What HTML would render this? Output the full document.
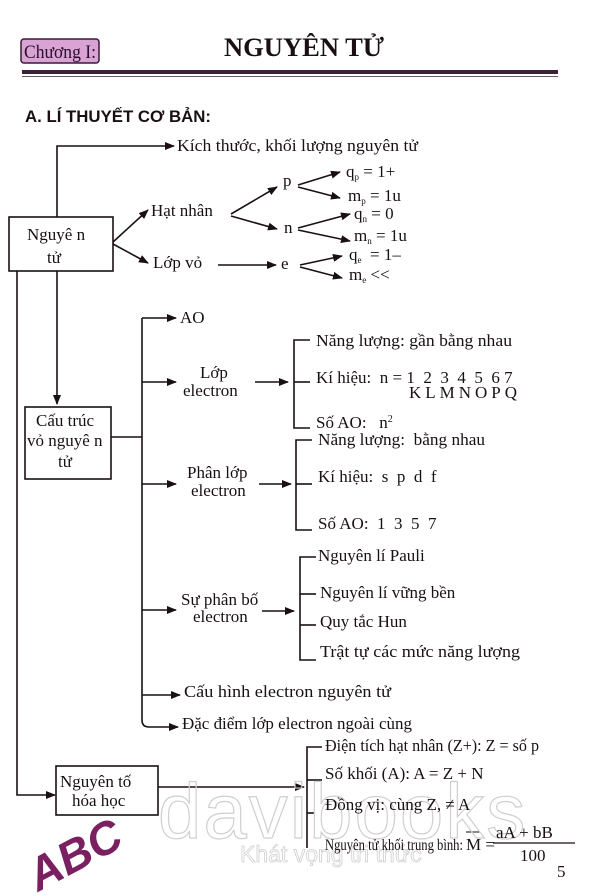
<!DOCTYPE html>
<html><head><meta charset="utf-8"><style>
html,body{margin:0;padding:0;background:#fff;}
svg{display:block;}
text{font-family:"Liberation Serif",serif;font-size:17px;fill:#1a0f14;white-space:pre;}
</style></head><body>
<svg width="600" height="896" viewBox="0 0 600 896" xmlns="http://www.w3.org/2000/svg" xml:space="preserve">
<defs>
<marker id="a" markerWidth="10" markerHeight="8" refX="9" refY="4" orient="auto" markerUnits="userSpaceOnUse">
<path d="M0,0 L10,4 L0,8 Z" fill="#1a0f14"/></marker>
</defs>
<g stroke="#1a0f14" stroke-width="1.6" fill="none">
<rect x="21" y="39" width="78" height="24" rx="3" fill="#d9a3d6" stroke="#3a1a36" stroke-width="1.5"/>
<line x1="22" y1="72" x2="558" y2="72" stroke="#3b2236" stroke-width="4"/>
<line x1="22" y1="76.5" x2="558" y2="76.5" stroke="#6a5a66" stroke-width="1"/>

<rect x="9" y="217" width="104" height="54"/>
<polyline points="57,217 57,146 174,146" marker-end="url(#a)"/>
<line x1="113" y1="242" x2="148" y2="210" marker-end="url(#a)"/>
<line x1="113" y1="244" x2="148" y2="263" marker-end="url(#a)"/>
<line x1="231" y1="214" x2="277" y2="187" marker-end="url(#a)"/>
<line x1="231" y1="216" x2="277" y2="229" marker-end="url(#a)"/>
<line x1="298" y1="185" x2="340" y2="172" marker-end="url(#a)"/>
<line x1="298" y1="187" x2="340" y2="198" marker-end="url(#a)"/>
<line x1="298" y1="228" x2="350" y2="214" marker-end="url(#a)"/>
<line x1="298" y1="230" x2="350" y2="241" marker-end="url(#a)"/>
<line x1="218" y1="265" x2="276" y2="265" marker-end="url(#a)"/>
<line x1="300" y1="265" x2="342" y2="256" marker-end="url(#a)"/>
<line x1="300" y1="267" x2="342" y2="278" marker-end="url(#a)"/>

<line x1="57" y1="271" x2="57" y2="404" marker-end="url(#a)"/>
<polyline points="17,271 17,795 55,795" marker-end="url(#a)"/>

<rect x="25" y="407" width="86" height="72"/>
<line x1="111" y1="437" x2="142" y2="437"/>
<path d="M142,318 L142,720 Q142,727 149,727 L178,727" marker-end="url(#a)"/>
<line x1="142" y1="318" x2="176" y2="318" marker-end="url(#a)"/>
<line x1="142" y1="382" x2="176" y2="382" marker-end="url(#a)"/>
<line x1="142" y1="484" x2="176" y2="484" marker-end="url(#a)"/>
<line x1="142" y1="610" x2="176" y2="610" marker-end="url(#a)"/>
<line x1="142" y1="695" x2="180" y2="695" marker-end="url(#a)"/>

<line x1="255" y1="382" x2="288" y2="382" marker-end="url(#a)"/>
<polyline points="310,340 294,340 294,428 310,428"/>
<line x1="294" y1="382" x2="310" y2="382"/>

<line x1="259" y1="484" x2="291" y2="484" marker-end="url(#a)"/>
<polyline points="312,440 296,440 296,530 312,530"/>
<line x1="296" y1="484" x2="312" y2="484"/>

<line x1="262" y1="611" x2="294" y2="611" marker-end="url(#a)"/>
<polyline points="316,557 300,557 300,660 316,660"/>
<line x1="300" y1="594" x2="316" y2="594"/>
<line x1="300" y1="625" x2="316" y2="625"/>

<rect x="56" y="766" width="102" height="49"/>
<line x1="158" y1="787" x2="304" y2="787" marker-end="url(#a)"/>
<polyline points="322,747 307,747 307,848"/>
<line x1="307" y1="780" x2="322" y2="780"/>
<line x1="307" y1="813" x2="314" y2="813"/>
<line x1="493" y1="843" x2="575" y2="843" stroke-width="1.2"/>
<line x1="466" y1="832" x2="480" y2="832" stroke-width="1"/>
</g>

<text x="158" y="838" style="font-family:'Liberation Sans',sans-serif;font-size:78px;fill:none;stroke:#cfcfcf;stroke-width:1.2;letter-spacing:2px">davibooks</text>
<text x="240" y="862" style="font-family:'Liberation Sans',sans-serif;font-size:23px;fill:#fff;stroke:#cfcfcf;stroke-width:0.8">Khát vọng tri thức</text>

<text x="24" y="58" textLength="72" lengthAdjust="spacingAndGlyphs" style="font-size:19px;fill:#2a0f28">Chương I:</text>
<text x="224" y="56" textLength="160" lengthAdjust="spacingAndGlyphs" style="font-size:26px;font-weight:bold">NGUYÊN TỬ</text>
<text x="25" y="122" textLength="186" lengthAdjust="spacingAndGlyphs" style="font-family:'Liberation Sans',sans-serif;font-size:17px;font-weight:bold">A. LÍ THUYẾT CƠ BẢN:</text>

<text x="177" y="151" textLength="241" lengthAdjust="spacingAndGlyphs">Kích thước, khối lượng nguyên tử</text>
<text x="27" y="240">Nguyê n</text>
<text x="47" y="263">tử</text>
<text x="151" y="216">Hạt nhân</text>
<text x="153" y="268">Lớp vỏ</text>
<text x="283" y="186">p</text>
<text x="284" y="233">n</text>
<text x="281" y="269">e</text>
<text x="346" y="177">q<tspan font-size="9" dy="3">p</tspan><tspan dy="-3"> = 1+</tspan></text>
<text x="348" y="201">m<tspan font-size="9" dy="3">p</tspan><tspan dy="-3"> = 1u</tspan></text>
<text x="354" y="219">q<tspan font-size="9" dy="3">n</tspan><tspan dy="-3"> = 0</tspan></text>
<text x="354" y="241">m<tspan font-size="9" dy="3">n</tspan><tspan dy="-3"> = 1u</tspan></text>
<text x="349" y="260">q<tspan font-size="9" dy="3">e</tspan><tspan dy="-3">  = 1–</tspan></text>
<text x="349" y="280">m<tspan font-size="9" dy="3">e</tspan><tspan dy="-3"> &lt;&lt;</tspan></text>

<text x="36" y="426">Cấu trúc</text>
<text x="27" y="446">vỏ nguyê n</text>
<text x="58" y="467">tử</text>

<text x="180" y="323">AO</text>
<text x="200" y="378">Lớp</text>
<text x="183" y="396">electron</text>
<text x="316" y="346" textLength="196" lengthAdjust="spacingAndGlyphs">Năng lượng: gần bằng nhau</text>
<text x="316" y="383">Kí hiệu:  n = 1  2  3  4  5  6 7</text>
<text x="409" y="398" textLength="108" lengthAdjust="spacing">KLMNOPQ</text>
<text x="316" y="428">Số AO:   n<tspan font-size="10" dy="-6">2</tspan></text>

<text x="187" y="478">Phân lớp</text>
<text x="191" y="496">electron</text>
<text x="318" y="445" textLength="167" lengthAdjust="spacingAndGlyphs">Năng lượng:  bằng nhau</text>
<text x="318" y="482">Kí hiệu:  s  p  d  f</text>
<text x="318" y="529">Số AO:  1  3  5  7</text>

<text x="181" y="605">Sự phân bố</text>
<text x="193" y="622">electron</text>
<text x="318" y="561">Nguyên lí Pauli</text>
<text x="320" y="598">Nguyên lí vững bền</text>
<text x="320" y="627">Quy tắc Hun</text>
<text x="320" y="657" textLength="200" lengthAdjust="spacingAndGlyphs">Trật tự các mức năng lượng</text>

<text x="184" y="697" textLength="207" lengthAdjust="spacingAndGlyphs">Cấu hình electron nguyên tử</text>
<text x="182" y="729" textLength="230" lengthAdjust="spacingAndGlyphs">Đặc điểm lớp electron ngoài cùng</text>

<text x="60" y="787">Nguyên tố</text>
<text x="72" y="806">hóa học</text>
<text x="325" y="751" textLength="214" lengthAdjust="spacingAndGlyphs">Điện tích hạt nhân (Z+): Z = số p</text>
<text x="325" y="779">Số khối (A): A = Z + N</text>
<text x="325" y="810">Đồng vị: cùng Z, ≠ A</text>
<text x="325" y="850" textLength="138" lengthAdjust="spacingAndGlyphs" style="font-size:16px">Nguyên tử khối trung bình:</text>
<text x="466" y="850">M =</text>
<text x="496" y="838">aA + bB</text>
<text x="520" y="861">100</text>
<text x="557" y="877">5</text>

<text x="0" y="0" transform="translate(38,892) rotate(-28)" style="font-family:'Liberation Sans',sans-serif;font-size:46px;font-weight:bold;font-style:italic;fill:#7a2060">ABC</text>
</svg>
</body></html>
